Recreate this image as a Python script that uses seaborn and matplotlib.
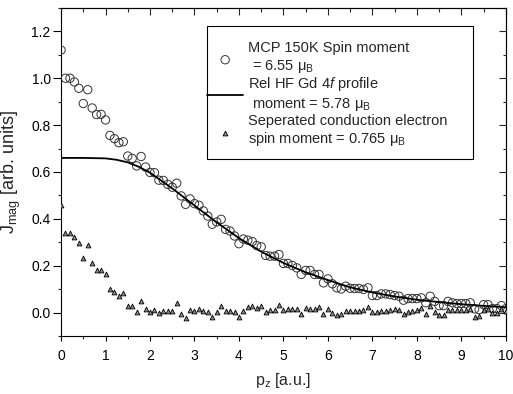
import numpy as np
import seaborn as sns
import matplotlib
matplotlib.use("Agg")
import matplotlib.pyplot as plt
from matplotlib.patches import Rectangle
from matplotlib.ticker import MultipleLocator

# momentum grid of the measured profiles [a.u.]
pz = np.linspace(0, 10, 101)

# MCP 150K spin moment (open circles)
mcp_spin = [1.12, 1.00, 1.00, 0.984, 0.957, 0.892, 0.951, 0.873, 0.845, 0.846,
            0.822, 0.756, 0.742, 0.725, 0.729, 0.668, 0.658, 0.626, 0.666, 0.621,
            0.598, 0.597, 0.565, 0.564, 0.547, 0.535, 0.552, 0.498, 0.462, 0.485,
            0.465, 0.458, 0.434, 0.412, 0.377, 0.387, 0.398, 0.355, 0.348, 0.327,
            0.294, 0.314, 0.309, 0.303, 0.286, 0.281, 0.244, 0.241, 0.241, 0.248,
            0.210, 0.210, 0.201, 0.191, 0.163, 0.180, 0.180, 0.163, 0.163, 0.127,
            0.144, 0.123, 0.106, 0.101, 0.113, 0.104, 0.103, 0.103, 0.099, 0.106,
            0.073, 0.073, 0.080, 0.080, 0.077, 0.073, 0.070, 0.053, 0.060, 0.060,
            0.060, 0.063, 0.042, 0.070, 0.048, 0.030, 0.030, 0.048, 0.042, 0.039,
            0.039, 0.039, 0.042, 0.016, 0.013, 0.034, 0.034, 0.017, 0.017, 0.030,
            0.017]

# separated conduction electron contribution (triangles)
cond_electron = [0.46, 0.341, 0.338, 0.323, 0.295, 0.231, 0.290, 0.213, 0.181, 0.184,
                 0.163, 0.099, 0.087, 0.073, 0.084, 0.027, 0.027, 0.001, 0.051, 0.017,
                 0.004, 0.013, -0.003, 0.006, 0.006, 0.006, 0.039, -0.004, -0.023, 0.013,
                 0.009, 0.016, 0.009, 0.001, -0.020, 0.001, 0.030, 0.006, 0.009, 0.003,
                 -0.020, 0.009, 0.023, 0.027, 0.020, 0.027, 0.001, 0.010, 0.013, 0.034,
                 0.010, 0.017, 0.017, 0.017, -0.004, 0.020, 0.017, 0.015, 0.024, -0.004,
                 0.017, -0.001, -0.009, -0.004, 0.006, 0.006, 0.006, 0.006, 0.010, 0.023,
                 0.004, 0.004, 0.009, 0.009, 0.010, 0.015, 0.010, -0.006, 0.004, 0.006,
                 0.013, 0.020, -0.004, 0.027, 0.003, -0.009, -0.009, 0.013, 0.010, 0.010,
                 0.010, 0.010, 0.015, -0.017, -0.013, 0.013, 0.017, -0.001, -0.001, 0.015,
                 0.006]

# Rel HF Gd 4f profile (solid line)
hf_pz = [0.0, 0.5, 1.0, 1.25, 1.5, 1.75, 2.0, 2.5, 3.0, 3.5, 4.0, 4.5, 5.0,
         5.5, 6.0, 6.5, 7.0, 7.5, 8.0, 8.5, 9.0, 9.5, 10.0]
hf_4f = [0.660, 0.660, 0.658, 0.652, 0.641, 0.622, 0.597, 0.530, 0.457, 0.385,
         0.318, 0.260, 0.212, 0.172, 0.139, 0.108, 0.086, 0.069, 0.055, 0.045,
         0.036, 0.029, 0.023]

labels = ["MCP 150K Spin moment\n = 6.55 μ$_\\mathrm{B}$",
          "Rel HF Gd 4$\\it{f}$ profile\n moment = 5.78 μ$_\\mathrm{B}$",
          "Seperated conduction electron\nspin moment = 0.765 μ$_\\mathrm{B}$"]

sns.set_style("ticks")
plt.rcParams['font.family'] = ['Liberation Sans', 'DejaVu Sans']
plt.rcParams['mathtext.fontset'] = 'custom'
plt.rcParams['mathtext.rm'] = 'Liberation Sans'
plt.rcParams['mathtext.it'] = 'Liberation Sans:italic'
plt.rcParams['mathtext.bf'] = 'Liberation Sans:bold'

fig = plt.figure(figsize=(5.13, 3.94), dpi=100)
ax = fig.add_axes([0.119, 0.147, 0.867, 0.833])

sns.scatterplot(x=pz, y=mcp_spin, ax=ax, marker='o', s=36,
                facecolor='none', edgecolor='#333333', linewidth=0.7, zorder=3)
sns.lineplot(x=hf_pz, y=hf_4f, ax=ax, color='black', linewidth=1.3, zorder=4)
sns.scatterplot(x=pz, y=cond_electron, ax=ax, marker='^', s=12,
                facecolor='#8a8a8a', edgecolor='black', linewidth=0.6, zorder=3)

ax.set_xlim(0, 10)
ax.set_ylim(-0.1, 1.3)
ax.xaxis.set_major_locator(MultipleLocator(1))
ax.xaxis.set_minor_locator(MultipleLocator(0.5))
ax.yaxis.set_minor_locator(MultipleLocator(0.1))
ax.set_yticks(np.arange(0, 1.21, 0.2))
ax.set_yticklabels(["0.0", "0.2", "0.4", "0.6", "0.8", "1.0", "1.2"])

for s in ax.spines.values():
    s.set_visible(True)
    s.set_linewidth(0.8)
    s.set_color('black')

ax.tick_params(axis='y', which='major', direction='out', length=5.5, width=0.8,
               pad=2, labelsize=10, colors='black')
ax.tick_params(axis='y', which='minor', direction='out', length=2.5, width=0.8)
ax.tick_params(axis='x', which='major', direction='out', length=3.5, width=0.8,
               pad=6, labelsize=10, colors='black')
ax.tick_params(axis='x', which='minor', direction='out', length=2.0, width=0.8)

# mirrored inward ticks on top and right
top = ax.secondary_xaxis('top')
top.xaxis.set_major_locator(MultipleLocator(1))
top.xaxis.set_minor_locator(MultipleLocator(0.5))
top.tick_params(which='major', direction='in', length=5, width=0.8, labeltop=False)
top.tick_params(which='minor', direction='in', length=3, width=0.8)
right = ax.secondary_yaxis('right')
right.yaxis.set_major_locator(MultipleLocator(0.2))
right.yaxis.set_minor_locator(MultipleLocator(0.1))
right.tick_params(which='major', direction='in', length=5, width=0.8, labelright=False)
right.tick_params(which='minor', direction='in', length=2.5, width=0.8)

ax.set_xlabel("p$_\\mathrm{z}$ [a.u.]", fontsize=11.5)
ax.set_ylabel("J$_\\mathrm{mag}$ [arb. units]", fontsize=13)
ax.xaxis.set_label_coords(0.5, -0.105)
ax.yaxis.set_label_coords(-0.085, 0.5)

# legend: circles, line, triangles (skip the empty band of lineplot)
handles = [ax.collections[0], ax.lines[0], ax.collections[-1]]
ax.legend(handles, labels, loc='upper left', bbox_to_anchor=(0.328, 0.898),
          frameon=False, fontsize=10.5, borderpad=0, borderaxespad=0,
          handlelength=2.5, handletextpad=0.3, labelspacing=0.05)
ax.add_patch(Rectangle((0.328, 0.54), 0.598, 0.405, transform=ax.transAxes,
                       fill=False, edgecolor='black', linewidth=0.8, zorder=5))

fig.savefig("out.png", dpi=100)
